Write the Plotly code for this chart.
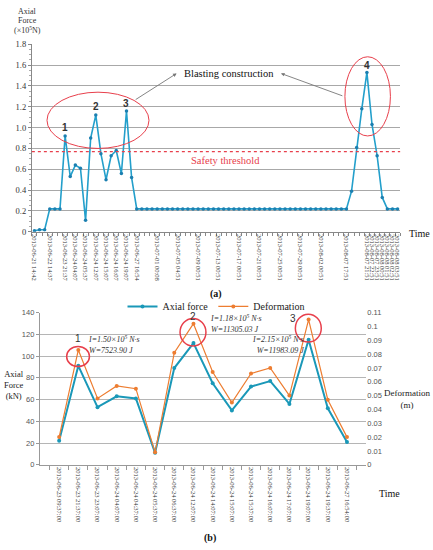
import plotly.graph_objects as go

SERIF = "Liberation Serif"
SANS = "Liberation Sans"

# ---- (a) axial force over the whole monitoring period ----
top_times = [
    "2013-06-21 14:42", "2013-06-21 20:42", "2013-06-22 02:42", "2013-06-22 14:37",
    "2013-06-23 02:37", "2013-06-23 09:37", "2013-06-23 21:37", "2013-06-23 23:07",
    "2013-06-24 04:07", "2013-06-24 04:37", "2013-06-24 05:37", "2013-06-24 06:37",
    "2013-06-24 12:07", "2013-06-24 14:07", "2013-06-24 15:07", "2013-06-24 15:37",
    "2013-06-24 16:07", "2013-06-24 17:07", "2013-06-24 19:07", "2013-06-24 19:37",
    "2013-06-27 16:54", "2013-06-28 00:08", "2013-06-29 00:08", "2013-06-30 00:08",
    "2013-07-01 00:08", "2013-07-02 04:51", "2013-07-03 04:51", "2013-07-04 04:51",
    "2013-07-05 04:51", "2013-07-06 00:51", "2013-07-07 00:51", "2013-07-08 00:51",
    "2013-07-09 00:51", "2013-07-10 00:51", "2013-07-11 00:51", "2013-07-12 00:51",
    "2013-07-13 00:51", "2013-07-14 00:51", "2013-07-15 00:51", "2013-07-16 00:51",
    "2013-07-17 00:51", "2013-07-18 00:51", "2013-07-19 00:51", "2013-07-20 00:51",
    "2013-07-21 00:51", "2013-07-22 00:51", "2013-07-23 00:51", "2013-07-24 00:51",
    "2013-07-25 00:51", "2013-07-26 00:51", "2013-07-27 00:51", "2013-07-28 00:51",
    "2013-07-29 00:51", "2013-07-30 00:51", "2013-07-31 00:51", "2013-08-01 00:51",
    "2013-08-02 00:51", "2013-08-03 00:51", "2013-08-04 00:51", "2013-08-05 00:51",
    "2013-08-06 00:51", "2013-08-07 17:51", "2013-08-07 18:51", "2013-08-07 19:51",
    "2013-08-07 20:51", "2013-08-07 21:51", "2013-08-07 22:51", "2013-08-07 23:51",
    "2013-08-08 00:51", "2013-08-08 01:51", "2013-08-08 02:51", "2013-08-08 03:51",
]
top_force = [
    0.01, 0.02, 0.02, 0.22, 0.22, 0.22, 0.92, 0.53, 0.64, 0.61, 0.11, 0.90,
    1.12, 0.75, 0.50, 0.73, 0.78, 0.56, 1.16, 0.52, 0.22, 0.22, 0.22, 0.22,
    0.22, 0.22, 0.22, 0.22, 0.22, 0.22, 0.22, 0.22, 0.22, 0.22, 0.22, 0.22,
    0.22, 0.22, 0.22, 0.22, 0.22, 0.22, 0.22, 0.22, 0.22, 0.22, 0.22, 0.22,
    0.22, 0.22, 0.22, 0.22, 0.22, 0.22, 0.22, 0.22, 0.22, 0.22, 0.22, 0.22,
    0.22, 0.22, 0.39, 0.81, 1.18, 1.53, 1.03, 0.73, 0.33, 0.22, 0.22, 0.22,
]
top_labelled = [
    "2013-06-21 14:42", "2013-06-22 14:37", "2013-06-23 21:37", "2013-06-24 04:07",
    "2013-06-24 05:37", "2013-06-24 12:07", "2013-06-24 15:07", "2013-06-24 16:07",
    "2013-06-24 19:07", "2013-06-27 16:54", "2013-07-01 00:08", "2013-07-05 04:51",
    "2013-07-09 00:51", "2013-07-13 00:51", "2013-07-17 00:51", "2013-07-21 00:51",
    "2013-07-25 00:51", "2013-07-29 00:51", "2013-08-02 00:51", "2013-08-07 17:51",
    "2013-08-07 21:51", "2013-08-07 22:51", "2013-08-07 23:51", "2013-08-08 00:51",
    "2013-08-08 01:51", "2013-08-08 02:51", "2013-08-08 03:51",
]
top_yticks = [0, 0.2, 0.4, 0.6, 0.8, 1.0, 1.2, 1.4, 1.6, 1.8]
top_ytext = ["0", "0.2", "0.4", "0.6", "0.8", "1.0", "1.2", "1.4", "1.6", "1.8"]
peak_labels = ["1", "2", "3", "4"]
peak_pos = [("2013-06-23 21:37", 1.0), ("2013-06-24 12:07", 1.2),
            ("2013-06-24 19:07", 1.23), ("2013-08-07 21:51", 1.6)]
safety_threshold = 0.77

# ---- (b) blasting period detail ----
bottom_times = [
    "2013-06-23 09:37:00", "2013-06-23 21:37:00", "2013-06-23 23:07:00",
    "2013-06-24 04:07:00", "2013-06-24 04:37:00", "2013-06-24 05:37:00",
    "2013-06-24 06:37:00", "2013-06-24 12:07:00", "2013-06-24 14:07:00",
    "2013-06-24 15:07:00", "2013-06-24 15:37:00", "2013-06-24 16:07:00",
    "2013-06-24 17:07:00", "2013-06-24 19:07:00", "2013-06-24 19:37:00",
    "2013-06-27 16:54:00",
]
axial_force = [22, 91, 53, 63, 61, 11, 89, 112, 75, 50, 72, 77, 56, 115, 52, 21]
deformation = [0.020, 0.083, 0.048, 0.057, 0.055, 0.009, 0.081, 0.102,
               0.067, 0.045, 0.066, 0.070, 0.050, 0.105, 0.047, 0.020]

BLUE_A = "#239fcb"
BLUE_B = "#1a98b8"
ORANGE = "#ed7d31"
RED = "#e8404c"

W, H = 433, 550


def paper_text(x, y, text, size, color="#222", family=SERIF, xanchor="center", align="center"):
    # x, y in page pixels from the top-left corner
    return dict(xref="paper", yref="paper", x=x / W, y=1 - y / H, text=text,
                xanchor=xanchor, yanchor="middle", align=align, showarrow=False,
                font=dict(family=family, size=size, color=color))


fig = go.Figure()
fig.add_trace(go.Scatter(
    x=top_times, y=top_force, mode="lines+markers", showlegend=False,
    line=dict(color=BLUE_A, width=1.6), marker=dict(size=3.5, color="#1b7fb0"),
    xaxis="x", yaxis="y",
))
fig.add_trace(go.Scatter(
    x=bottom_times, y=axial_force, mode="lines+markers", name="Axial force",
    line=dict(color=BLUE_B, width=2), marker=dict(size=4, color=BLUE_B),
    xaxis="x2", yaxis="y2",
))
fig.add_trace(go.Scatter(
    x=bottom_times, y=deformation, mode="lines+markers", name="Deformation",
    line=dict(color=ORANGE, width=1.2), marker=dict(size=4, color=ORANGE),
    xaxis="x2", yaxis="y3",
))

annotations = []
shapes = []

# top panel decorations
for text, (xc, yv) in zip(peak_labels, peak_pos):
    annotations.append(dict(xref="x", yref="y", x=xc, y=yv, text="<b>%s</b>" % text,
                            showarrow=False, font=dict(family=SANS, size=10, color="#333")))
for text, yc in [("Axial", 7), ("Force", 16), ("(×10<sup>5</sup>N)", 25)]:
    annotations.append(paper_text(27, yc, text, 8, "#333"))
annotations += [
    paper_text(229, 70, "Blasting construction", 10.5, "#111"),
    dict(xref="x", yref="y", x=27.8, y=1.52, ax=19.5, ay=1.26, axref="x", ayref="y",
         text="", showarrow=True, arrowhead=2, arrowsize=0.8, arrowwidth=0.9,
         arrowcolor="#777"),
    dict(xref="x", yref="y", x=48.2, y=1.52, ax=60.5, ay=1.30, axref="x", ayref="y",
         text="", showarrow=True, arrowhead=2, arrowsize=0.8, arrowwidth=0.9,
         arrowcolor="#777"),
    paper_text(226, 158, "Safety threshold", 10.5, RED),
    paper_text(433, 233, "Time", 10, "#111", xanchor="right"),
    paper_text(216, 294, "<b>(a)</b>", 10, "#111"),
]
shapes += [
    dict(type="circle", xref="x", yref="y", x0=2.46, x1=22.4, y0=0.80, y1=1.34,
         line=dict(color=RED, width=1)),
    dict(type="circle", xref="x", yref="y", x0=60.7, x1=69.6, y0=0.92, y1=1.68,
         line=dict(color=RED, width=1)),
    dict(type="line", xref="x domain", yref="y", x0=0, x1=1,
         y0=safety_threshold, y1=safety_threshold,
         line=dict(color=RED, width=1.4, dash="dot")),
]

# bottom panel decorations
for text, xi, yv in [("1", 1, 116), ("2", 7, 136.5), ("3", 12.2, 135)]:
    annotations.append(dict(xref="x2", yref="y2", x=xi, y=yv, text=text, showarrow=False,
                            font=dict(family=SANS, size=10, color="#333")))
annotations += [
    paper_text(85, 346, "<i>I=1.50×10<sup>5</sup> N·s<br>W=7523.90 J</i>", 8, "#333",
               xanchor="left", align="left"),
    paper_text(208, 324, "<i>I=1.18×10<sup>5</sup> N·s<br>W=11305.03 J</i>", 8, "#333",
               xanchor="left", align="left"),
    paper_text(306, 346, "<i>I=2.15×10<sup>5</sup> N·s<br>W=11983.09 J</i>", 8, "#333",
               xanchor="right", align="right"),
    paper_text(13.5, 387, "Axial<br>Force<br>(kN)", 8.5),
    paper_text(433, 401, "Deformation<br>(m)", 9, xanchor="right"),
    paper_text(390, 498, "Time", 10, "#111"),
    paper_text(210, 543, "<b>(b)</b>", 10, "#111"),
]
for x0, x1, y0, y1 in [(0.39, 1.58, 90.3, 108.9), (6.3, 7.65, 109.3, 134.6),
                       (12.31, 13.66, 112.9, 138.5)]:
    shapes.append(dict(type="circle", xref="x2", yref="y2", x0=x0, x1=x1, y0=y0, y1=y1,
                       line=dict(color=RED, width=1.5)))

fig.update_layout(
    width=W, height=H,
    margin=dict(l=0, r=0, t=0, b=0),
    paper_bgcolor="white", plot_bgcolor="white",
    font=dict(family=SERIF, size=8, color="#333"),
    showlegend=True,
    legend=dict(orientation="h", x=216 / W, y=1 - 307 / H, xanchor="center", yanchor="middle",
                font=dict(family=SERIF, size=10, color="#222"), itemwidth=30,
                bgcolor="rgba(0,0,0,0)"),
    xaxis=dict(
        domain=[31 / W, 401 / W], anchor="y", type="category",
        range=[-0.5, len(top_times) - 0.5],
        tickmode="array", tickvals=top_times,
        ticktext=[t if t in top_labelled else "" for t in top_times],
        tickangle=90, tickfont=dict(family=SERIF, size=6.5, color="#333"),
        ticks="outside", ticklen=3, tickcolor="#888", tickson="boundaries",
        showline=True, linecolor="#888", linewidth=1, showgrid=False,
    ),
    yaxis=dict(
        domain=[1 - 231 / H, 1 - 40 / H], anchor="x", range=[0, 1.8],
        tickmode="array", tickvals=top_yticks, ticktext=top_ytext,
        tickfont=dict(family=SERIF, size=8.5, color="#333"),
        showgrid=True, gridcolor="#a8a8a8", gridwidth=1,
        showline=True, linecolor="#888", ticks="outside", ticklen=3, tickcolor="#888",
        minor=dict(dtick=0.05, ticks="outside", ticklen=2, tickcolor="#aaa", showgrid=False),
        zeroline=False,
    ),
    xaxis2=dict(
        domain=[39 / W, 367 / W], anchor="y2", type="category",
        tickangle=90, tickfont=dict(family=SERIF, size=6.5, color="#333"),
        ticks="outside", ticklen=4, tickcolor="#999", tickson="boundaries",
        showline=True, linecolor="#999", showgrid=False,
    ),
    yaxis2=dict(
        domain=[1 - 468.3 / H, 1 - 313.3 / H], anchor="x2", range=[0, 140], dtick=20,
        tickfont=dict(family=SANS, size=7.5, color="#555"),
        showgrid=True, gridcolor="#b5b5b5", gridwidth=1.2,
        showline=True, linecolor="#999", ticks="outside", ticklen=3, tickcolor="#999",
        zeroline=False,
    ),
    yaxis3=dict(
        overlaying="y2", anchor="x2", side="right", range=[0, 0.11], dtick=0.01,
        tickfont=dict(family=SANS, size=7.5, color="#555"),
        showgrid=False, showline=False, zeroline=False,
    ),
    annotations=annotations,
    shapes=shapes,
)

# drop the browser's default body margin so the figure sits at the page origin
fig.write_html("out.html", config={"displayModeBar": False},
               post_script="document.body.style.margin='0';document.body.style.overflow='hidden';")
